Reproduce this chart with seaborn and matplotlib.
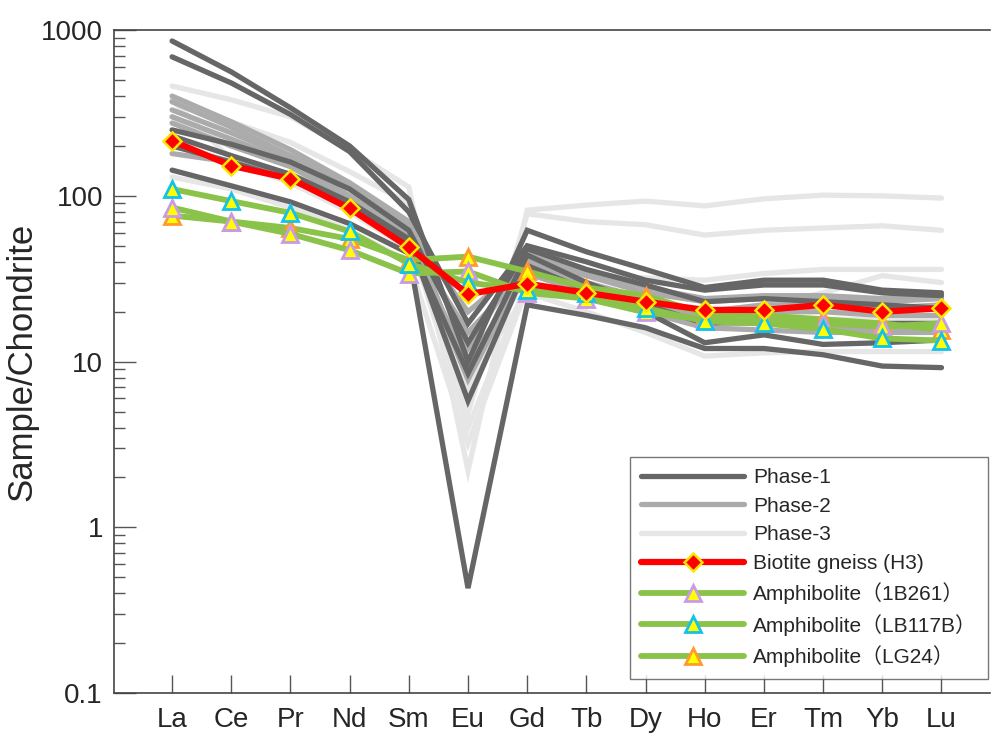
import numpy as np
import matplotlib
matplotlib.use("Agg")
import matplotlib.pyplot as plt
import seaborn as sns

# REE patterns normalised to chondrite
elements = ["La", "Ce", "Pr", "Nd", "Sm", "Eu", "Gd", "Tb", "Dy", "Ho", "Er", "Tm", "Yb", "Lu"]

phase1 = [
    [860, 560, 340, 200, 95, 10, 62, 46, 36, 28, 31, 31, 27, 26],
    [690, 480, 310, 185, 80, 17, 50, 40, 31, 27, 29, 29, 26, 25],
    [250, 205, 160, 110, 62, 13, 48, 36, 29, 23, 24, 23, 22, 21],
    [143, 115, 92, 68, 45, 0.43, 22, 19, 16, 12, 12, 11, 9.4, 9.2],
    [230, 175, 135, 92, 55, 5.8, 38, 27, 20, 13, 14.5, 12.7, 13, 13.5],
    [200, 160, 125, 88, 52, 8.5, 44, 30, 22, 17, 18, 17, 17, 17],
]
phase2 = [
    [400, 280, 190, 120, 70, 12, 45, 35, 28, 24, 25, 25, 24, 25],
    [370, 260, 175, 115, 66, 8.3, 42, 33, 26, 23, 24, 24, 23, 24],
    [330, 240, 170, 110, 62, 20, 40, 30, 24, 20, 22, 22, 21, 22],
    [300, 220, 160, 100, 58, 7.8, 38, 28, 22, 19, 20, 20, 19, 19],
    [275, 200, 150, 95, 55, 15, 36, 27, 21, 17, 17, 16, 16, 16],
    [180, 160, 130, 90, 52, 10, 34, 26, 20, 16, 15.5, 15, 15, 15],
]
phase3 = [
    [460, 380, 300, 190, 113, 2.2, 82, 88, 93, 87, 96, 101, 100, 97],
    [370, 280, 210, 140, 90, 4.9, 78, 70, 67, 58, 62, 64, 66, 62],
    [300, 200, 160, 105, 62, 6.8, 35, 33, 32, 31, 34, 36, 36, 36],
    [380, 165, 135, 95, 58, 4.0, 30, 26, 23, 20, 22, 26, 33, 30],
    [210, 160, 120, 80, 48, 7.5, 26, 20, 15, 10.8, 11.3, 11.5, 11.5, 11.5],
    [130, 110, 85, 62, 40, 3.2, 28, 24, 20, 17, 18, 18, 18, 18],
]

h3 = [215, 152, 127, 84, 49, 25.5, 29.5, 26, 23, 20.5, 20.5, 22, 20, 21]
am_1b261 = [85, 70, 59, 47, 34, 35, 26, 24, 19.8, 18, 17.7, 17, 16.3, 17]
am_lb117b = [110, 93, 79, 61, 39, 30, 27, 26, 21, 17.5, 17, 15.7, 13.8, 13.4]
am_lg24 = [76, 70, 64, 55, 41, 43, 35, 28, 25, 19.5, 19, 18, 17, 15.5]

y_ticks = [0.1, 1, 10, 100, 1000]
y_ticklabels = ["0.1", "1", "10", "100", "1000"]

sns.set_style("white")
plt.rcParams["font.family"] = ["Liberation Sans", "Noto Sans CJK SC"]

x = np.arange(len(elements))

fig = plt.figure(figsize=(9.92, 7.35), dpi=100)
ax = fig.add_axes([0.115, 0.057, 0.883, 0.902])

handles = []

# -------------------------------
# Phase lines
# -------------------------------
phase_colors = ["#666666", "#ababab", "#e6e6e6"]
for group, col, z in zip([phase1, phase2, phase3], phase_colors, [4, 3, 2]):
    for i, vals in enumerate(group):
        sns.lineplot(x=x, y=vals, color=col, lw=3.8, ax=ax, legend=False,
                     solid_capstyle="round", solid_joinstyle="miter", zorder=z)
        if i == 0:
            handles.append(ax.lines[-1])

# -------------------------------
# Amphibolites + biotite gneiss
# -------------------------------
green = "#8bc34a"
amph = [(am_1b261, "#c89be8", 6), (am_lb117b, "#12c2ec", 7), (am_lg24, "#ff9a2e", 5)]
amph_lines = []
for vals, ec, z in amph:
    sns.lineplot(x=x, y=vals, color=green, lw=4.2, ax=ax, legend=False,
                 marker="^", markersize=12, markerfacecolor="#ffff00",
                 markeredgecolor=ec, markeredgewidth=2, zorder=z)
    amph_lines.append(ax.lines[-1])

sns.lineplot(x=x, y=h3, color="#ff0000", lw=4.5, ax=ax, legend=False,
             marker="D", markersize=9.5, markerfacecolor="#ff0000",
             markeredgecolor="#ffe600", markeredgewidth=1.8, zorder=8)
handles.append(ax.lines[-1])
handles += amph_lines

labels = ["Phase-1", "Phase-2", "Phase-3", "Biotite gneiss (H3)",
          "Amphibolite（1B261）", "Amphibolite（LB117B）", "Amphibolite（LG24）"]

# -------------------------------
# Axes
# -------------------------------
ax.set_yscale("log")
ax.set_ylim(0.1, 1000)
ax.set_xlim(-0.98, 13.82)
ax.set_yticks(y_ticks)
ax.set_yticklabels(y_ticklabels)
ax.set_xticks(x)
ax.set_xticklabels(elements)
ax.yaxis.set_minor_locator(matplotlib.ticker.LogLocator(base=10, subs=np.arange(2, 10)))
ax.yaxis.set_minor_formatter(matplotlib.ticker.NullFormatter())

ax.tick_params(axis="y", which="major", direction="in", length=16, width=1,
               color="#555555", labelsize=20, pad=8, left=True)
ax.tick_params(axis="y", which="minor", direction="in", length=8, width=1,
               color="#555555", left=True)
ax.tick_params(axis="x", which="major", direction="in", length=13, width=1,
               color="#555555", labelsize=20, pad=10, bottom=True)

ax.set_ylabel("Sample/Chondrite", fontsize=25, labelpad=2)
ax.set_xlabel("")

for side in ["left", "bottom", "top"]:
    ax.spines[side].set_color("#444444")
    ax.spines[side].set_linewidth(1.2)
ax.spines["right"].set_visible(False)

leg = ax.legend(handles, labels, loc="lower right", bbox_to_anchor=(0.998, 0.022),
                fontsize=15, handlelength=4.9, handletextpad=0.45, labelspacing=0.46,
                borderpad=0.55, borderaxespad=0, frameon=True, fancybox=False,
                edgecolor="#555555")
leg.get_frame().set_linewidth(1.0)

fig.savefig("out.png", dpi=100)
